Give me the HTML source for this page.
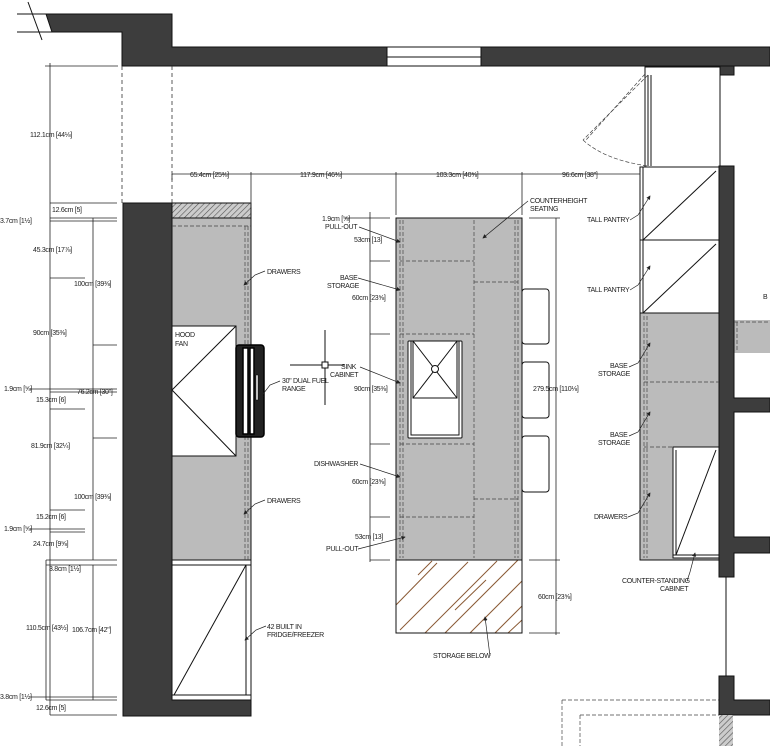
<!DOCTYPE html>
<html><head><meta charset="utf-8"><style>
html,body{margin:0;padding:0;background:#fff;}
svg{display:block;}
text{font-family:"Liberation Sans",sans-serif;font-size:7px;fill:#222;letter-spacing:-0.3px;}
</style></head><body>
<svg width="770" height="746" viewBox="0 0 770 746" xmlns="http://www.w3.org/2000/svg">
<defs>
<pattern id="h" width="4" height="4" patternUnits="userSpaceOnUse" patternTransform="rotate(45)"><rect width="4" height="4" fill="#ccc"/><line x1="0" y1="0" x2="0" y2="4" stroke="#555" stroke-width="1.2"/></pattern>
<marker id="a" markerWidth="6" markerHeight="6" refX="5" refY="3" orient="auto"><path d="M0,0 L6,3 L0,6z" fill="#222"/></marker>
</defs>
<g stroke="#111" stroke-width="1">
<line x1="17" y1="14" x2="52" y2="14"/><line x1="17" y1="32" x2="52" y2="32"/>
<line x1="28" y1="2" x2="42" y2="40"/>
<path d="M46,14 H172 V47 H770 V66 H481 V47 H387 V66 H122 V32 H52 Z" fill="#3d3d3d"/>
<rect x="387" y="47" width="94" height="19" fill="#fff"/><line x1="387" y1="57" x2="481" y2="57"/>
<rect x="720" y="66" width="14" height="9" fill="#3d3d3d"/>
<path d="M123,203 H172 V700 H251 V716 H123 Z" fill="#3d3d3d"/>
</g>
<g stroke="#333" stroke-width="0.8" stroke-dasharray="4,3" fill="none">
<line x1="122" y1="66" x2="122" y2="203"/><line x1="172" y1="66" x2="172" y2="203"/>
</g>
<g stroke="#111" stroke-width="1">
<rect x="172" y="203" width="79" height="15" fill="url(#h)"/>
<rect x="172" y="218" width="79" height="342" fill="#bbb"/>
<rect x="172" y="560" width="79" height="140" fill="#fff"/>
<line x1="172" y1="565" x2="251" y2="565"/><line x1="172" y1="695" x2="251" y2="695"/>
<line x1="246" y1="565" x2="246" y2="695"/>
<line x1="246" y1="565" x2="174" y2="695"/>
<rect x="172" y="326" width="64" height="130" fill="#fff"/>
<polyline points="236,326 172,390 236,456" fill="none"/>
</g>
<g stroke="#444" stroke-width="0.7" stroke-dasharray="4,2" fill="none">
<line x1="172" y1="226" x2="251" y2="226"/><line x1="245" y1="226" x2="245" y2="560"/><line x1="248" y1="226" x2="248" y2="560"/>
</g>
<g stroke="#000" stroke-width="1.5" fill="#fff">
<rect x="236" y="345" width="28" height="92" rx="3" fill="#222"/>
<rect x="243" y="348" width="5" height="86" fill="#fff"/><rect x="250" y="348" width="4" height="86" fill="#fff"/>
<rect x="256" y="375" width="2" height="25" fill="#fff" stroke-width="0.5"/>
</g>
<g stroke="#111" stroke-width="1"><line x1="290" y1="365" x2="345" y2="365"/><line x1="325" y1="330" x2="325" y2="405"/><rect x="322" y="362" width="6" height="6" fill="#fff"/></g>
<g stroke="#111" stroke-width="1">
<rect x="522" y="289" width="27" height="55" rx="3" fill="#fff"/>
<rect x="522" y="362" width="27" height="56" rx="3" fill="#fff"/>
<rect x="522" y="436" width="27" height="56" rx="3" fill="#fff"/>
<rect x="396" y="218" width="126" height="342" fill="#bbb"/>
<rect x="396" y="560" width="126" height="73" fill="#fff"/>
</g>
<g stroke="#8a5a35" stroke-width="1">
<line x1="396" y1="605" x2="437" y2="563"/><line x1="400" y1="630" x2="468" y2="562"/><line x1="425" y1="633" x2="497" y2="561"/><line x1="445" y1="633" x2="518" y2="560"/><line x1="470" y1="633" x2="522" y2="581"/><line x1="495" y1="633" x2="522" y2="606"/><line x1="418" y1="575" x2="432" y2="561"/><line x1="455" y1="610" x2="486" y2="580"/><line x1="508" y1="633" x2="522" y2="620"/>
</g>
<rect x="396" y="560" width="126" height="73" fill="none" stroke="#111"/>
<g stroke="#444" stroke-width="0.7" stroke-dasharray="4,2" fill="none">
<line x1="400" y1="220" x2="400" y2="558"/><line x1="403" y1="220" x2="403" y2="558"/>
<line x1="515" y1="220" x2="515" y2="558"/><line x1="518" y1="220" x2="518" y2="558"/>
<line x1="474" y1="220" x2="474" y2="558"/>
<line x1="400" y1="261" x2="474" y2="261"/><line x1="400" y1="334" x2="474" y2="334"/>
<line x1="474" y1="282" x2="518" y2="282"/><line x1="474" y1="499" x2="518" y2="499"/>
<line x1="400" y1="444" x2="474" y2="444"/><line x1="400" y1="517" x2="474" y2="517"/>
</g>
<g stroke="#111" stroke-width="1" fill="#fff">
<rect x="408" y="341" width="54" height="97" rx="1"/>
<rect x="411" y="341" width="48" height="94" fill="none"/>
<rect x="413" y="341" width="44" height="57" fill="none"/>
<line x1="413" y1="341" x2="457" y2="398"/><line x1="457" y1="341" x2="413" y2="398"/>
<circle cx="435" cy="369" r="3.5"/>
</g>
<g stroke="#111" stroke-width="1">
<rect x="645" y="67" width="75" height="100" fill="#fff"/>
<line x1="648" y1="75" x2="648" y2="166"/><line x1="651" y1="75" x2="651" y2="166"/>
<rect x="640" y="167" width="79" height="146" fill="#fff"/>
<line x1="640" y1="240" x2="719" y2="240"/><line x1="643" y1="167" x2="643" y2="313"/>
<line x1="643" y1="240" x2="716" y2="171"/><line x1="643" y1="313" x2="716" y2="244"/>
<rect x="640" y="313" width="79" height="247" fill="#bbb"/>
<rect x="673" y="447" width="46" height="111" fill="#fff"/>
<line x1="676" y1="450" x2="676" y2="555"/><line x1="676" y1="555" x2="716" y2="450"/>
<line x1="673" y1="555" x2="719" y2="555"/>
<rect x="734" y="320" width="36" height="33" fill="#bbb" stroke="none"/>
<path d="M719,166 H734 V398 H770 V412 H734 V537 H770 V553 H734 V577 H719 Z" fill="#3d3d3d"/>
<line x1="726" y1="577" x2="726" y2="676"/>
<path d="M719,676 H734 V700 H770 V715 H719 Z" fill="#3d3d3d"/>
<rect x="719" y="715" width="14" height="31" fill="url(#h)" stroke="none"/>
</g>
<g stroke="#444" stroke-width="0.7" stroke-dasharray="4,2" fill="none">
<line x1="644" y1="316" x2="644" y2="558"/><line x1="647" y1="316" x2="647" y2="558"/>
<line x1="644" y1="382" x2="719" y2="382"/><line x1="644" y1="447" x2="673" y2="447"/>
<line x1="737" y1="322" x2="737" y2="352"/><line x1="734" y1="322" x2="770" y2="322"/>
<line x1="562" y1="700" x2="719" y2="700"/><line x1="580" y1="715" x2="719" y2="715"/>
<line x1="562" y1="700" x2="562" y2="746"/><line x1="580" y1="715" x2="580" y2="746"/>
<polyline points="648,75 583,140"/><polyline points="645,74 586,140"/>
<path d="M583,140 Q605,160 648,166"/>
</g>
<g stroke="#222" stroke-width="0.8" fill="none">
<line x1="172" y1="174" x2="640" y2="174"/>
<line x1="172" y1="174" x2="172" y2="180"/><line x1="251" y1="172" x2="251" y2="207"/><line x1="396" y1="172" x2="396" y2="215"/><line x1="522" y1="172" x2="522" y2="215"/><line x1="640" y1="172" x2="640" y2="180"/>
<line x1="50" y1="63" x2="50" y2="715"/><line x1="93" y1="218" x2="93" y2="560"/><line x1="46" y1="560" x2="46" y2="700"/><line x1="93" y1="565" x2="93" y2="700"/>
<line x1="45" y1="66" x2="118" y2="66"/><line x1="50" y1="203" x2="117" y2="203"/>
<line x1="50" y1="218" x2="117" y2="218"/><line x1="50" y1="221" x2="117" y2="221"/>
<line x1="50" y1="278" x2="85" y2="278"/><line x1="93" y1="345" x2="117" y2="345"/>
<line x1="30" y1="389" x2="117" y2="389"/><line x1="50" y1="392" x2="117" y2="392"/>
<line x1="50" y1="409" x2="85" y2="409"/><line x1="93" y1="438" x2="117" y2="438"/>
<line x1="50" y1="510" x2="85" y2="510"/><line x1="30" y1="529" x2="85" y2="529"/><line x1="50" y1="532" x2="85" y2="532"/>
<line x1="46" y1="560" x2="117" y2="560"/><line x1="46" y1="565" x2="117" y2="565"/>
<line x1="30" y1="697" x2="117" y2="697"/><line x1="46" y1="700" x2="117" y2="700"/><line x1="50" y1="715" x2="117" y2="715"/>
<line x1="370" y1="212" x2="370" y2="562"/>
<line x1="345" y1="218" x2="390" y2="218"/><line x1="370" y1="261" x2="390" y2="261"/><line x1="370" y1="334" x2="390" y2="334"/><line x1="370" y1="444" x2="390" y2="444"/><line x1="370" y1="517" x2="390" y2="517"/><line x1="370" y1="560" x2="390" y2="560"/>
<line x1="556" y1="218" x2="556" y2="635"/><line x1="529" y1="218" x2="560" y2="218"/><line x1="529" y1="560" x2="560" y2="560"/><line x1="529" y1="633" x2="560" y2="633"/>
</g>
<g stroke="#222" stroke-width="0.7" fill="none" marker-end="url(#a)">
<path d="M265,271 L255,275 L244,285"/>
<path d="M265,500 L255,504 L244,514"/>
<path d="M266,626 L256,630 L245,640"/>
<path d="M280,381 L270,385 L260,398"/>
<path d="M359,227 L400,242"/>
<path d="M358,278 L400,290"/>
<path d="M360,367 L400,383"/>
<path d="M360,464 L400,477"/>
<path d="M358,549 L405,537"/>
<path d="M528,201 L483,238"/>
<path d="M490,656 L485,617"/>
<path d="M630,220 L638,215 L650,196"/>
<path d="M630,290 L638,285 L650,266"/>
<path d="M629,367 L638,363 L650,343"/>
<path d="M629,436 L638,432 L650,412"/>
<path d="M628,517 L638,513 L650,493"/>
<path d="M687,581 L690,572 L695,553"/>
</g>
<text x="190" y="177">65.4cm [25⅜]</text>
<text x="300" y="177">117.9cm [46⅜]</text>
<text x="436" y="177">103.3cm [40⅝]</text>
<text x="562" y="177">96.6cm [38"]</text>
<text x="30" y="137">112.1cm [44⅛]</text>
<text x="52" y="212">12.6cm [5]</text>
<text x="0" y="223">3.7cm [1½]</text>
<text x="33" y="252">45.3cm [17⅞]</text>
<text x="74" y="286">100cm [39⅜]</text>
<text x="33" y="335">90cm [35⅜]</text>
<text x="4" y="391">1.9cm [⅝]</text>
<text x="77" y="394">76.2cm [30"]</text>
<text x="36" y="402">15.3cm [6]</text>
<text x="31" y="448">81.9cm [32¼]</text>
<text x="74" y="499">100cm [39⅜]</text>
<text x="36" y="519">15.2cm [6]</text>
<text x="4" y="531">1.9cm [⅝]</text>
<text x="33" y="546">24.7cm [9⅝]</text>
<text x="49" y="571">3.8cm [1½]</text>
<text x="26" y="630">110.5cm [43½]</text>
<text x="72" y="632">106.7cm [42"]</text>
<text x="0" y="699">3.8cm [1½]</text>
<text x="36" y="710">12.6cm [5]</text>
<text x="175" y="337">HOOD</text><text x="175" y="346">FAN</text>
<text x="267" y="274">DRAWERS</text>
<text x="282" y="383">30" DUAL FUEL</text><text x="282" y="391">RANGE</text>
<text x="267" y="503">DRAWERS</text>
<text x="267" y="629">42 BUILT IN</text><text x="267" y="637">FRIDGE/FREEZER</text>
<text x="322" y="221">1.9cm [⅝]</text>
<text x="325" y="229">PULL-OUT</text>
<text x="354" y="242">53cm [13]</text>
<text x="340" y="280">BASE</text><text x="327" y="288">STORAGE</text>
<text x="352" y="300">60cm [23⅝]</text>
<text x="341" y="369">SINK</text><text x="330" y="377">CABINET</text>
<text x="354" y="391">90cm [35⅜]</text>
<text x="314" y="466">DISHWASHER</text>
<text x="352" y="484">60cm [23⅝]</text>
<text x="355" y="539">53cm [13]</text>
<text x="326" y="551">PULL-OUT</text>
<text x="530" y="203">COUNTERHEIGHT</text><text x="530" y="211">SEATING</text>
<text x="533" y="391">279.5cm [110⅛]</text>
<text x="538" y="599">60cm [23⅝]</text>
<text x="433" y="658">STORAGE BELOW</text>
<text x="587" y="222">TALL PANTRY</text>
<text x="587" y="292">TALL PANTRY</text>
<text x="610" y="368">BASE</text><text x="598" y="376">STORAGE</text>
<text x="610" y="437">BASE</text><text x="598" y="445">STORAGE</text>
<text x="594" y="519">DRAWERS</text>
<text x="622" y="583">COUNTER-STANDING</text><text x="660" y="591">CABINET</text>
<text x="763" y="299">B</text>
</svg>
</body></html>
